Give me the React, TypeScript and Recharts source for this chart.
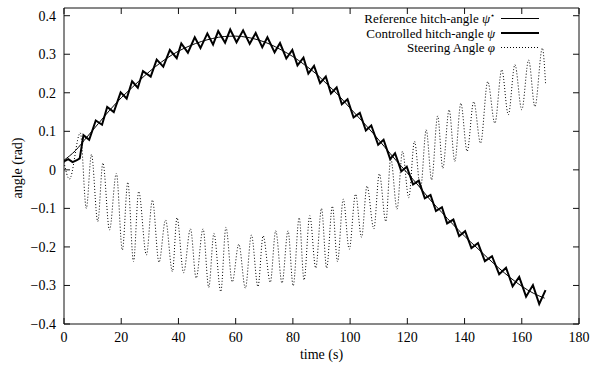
import React from "react";
import { LineChart, Line, XAxis, YAxis, ReferenceArea } from "recharts";

// reference hitch-angle, read every 4 s
const refT = [0, 4, 8, 12, 16, 20, 24, 28, 32, 36, 40, 44, 48, 52, 56, 60, 64, 68, 72, 76, 80, 84, 88, 92, 96, 100, 104, 108, 112, 116, 120, 124, 128, 132, 136, 140, 144, 148, 152, 156, 160, 164, 168];
const refV = [0.025, 0.05, 0.085, 0.12, 0.155, 0.187, 0.215, 0.243, 0.268, 0.29, 0.308, 0.322, 0.333, 0.341, 0.346, 0.347, 0.344, 0.337, 0.326, 0.311, 0.294, 0.273, 0.25, 0.222, 0.193, 0.16, 0.128, 0.095, 0.06, 0.025, -0.008, -0.042, -0.078, -0.11, -0.142, -0.172, -0.2, -0.228, -0.255, -0.28, -0.302, -0.32, -0.333];

// controlled hitch-angle, peaks and dips of the zigzag
const ctrlT = [0, 1.5, 3, 4.5, 5.5, 6.8, 8.8, 11.1, 13.3, 15.1, 17.4, 19.8, 21.9, 23.8, 25.8, 27.6, 30.3, 32.4, 34.7, 37, 39.4, 41, 43.3, 45.7, 47.7, 50.1, 52.1, 53.9, 56.3, 58.1, 60.3, 62.6, 64.9, 67, 69.3, 71.1, 73.6, 75.5, 77.7, 79.8, 81.6, 83.7, 85.4, 87.4, 89.5, 91.5, 93.3, 95.3, 97.1, 99.1, 101.2, 103.4, 105.5, 107.4, 109.8, 111.7, 114, 115.7, 117.9, 119.8, 122, 124, 126.1, 128.1, 130, 132.1, 133.9, 136.1, 138.1, 140.2, 142.4, 144.7, 147.1, 149.6, 152.1, 154.5, 156.8, 159.1, 161.5, 163.9, 166.1, 168.3];
const ctrlV = [0.022, 0.028, 0.02, 0.025, 0.03, 0.09, 0.078, 0.128, 0.117, 0.163, 0.15, 0.201, 0.185, 0.23, 0.213, 0.256, 0.242, 0.286, 0.268, 0.311, 0.29, 0.328, 0.304, 0.344, 0.316, 0.354, 0.325, 0.36, 0.33, 0.364, 0.331, 0.362, 0.327, 0.355, 0.318, 0.344, 0.305, 0.329, 0.289, 0.311, 0.271, 0.291, 0.25, 0.27, 0.225, 0.242, 0.198, 0.214, 0.17, 0.183, 0.136, 0.148, 0.102, 0.115, 0.065, 0.078, 0.028, 0.043, -0.004, 0.008, -0.038, -0.028, -0.074, -0.065, -0.107, -0.097, -0.139, -0.129, -0.172, -0.159, -0.203, -0.19, -0.237, -0.224, -0.271, -0.254, -0.302, -0.278, -0.329, -0.299, -0.348, -0.312];

// steering angle, tops and bottoms of each swing
const steerT = [0, 1.9, 5.7, 7.8, 9.6, 11.8, 13.6, 15.9, 18.3, 20.4, 22.3, 24.3, 26.1, 28.8, 30.9, 33.2, 35.5, 37.9, 39.5, 41.8, 44.2, 46.2, 48.6, 50.6, 52.4, 54.8, 56.6, 58.8, 61.1, 63.4, 65.5, 67.8, 69.6, 72.1, 74, 76.2, 78.3, 80.1, 82.2, 83.9, 85.9, 88, 90, 91.8, 93.8, 95.6, 97.6, 99.7, 101.9, 104, 105.9, 108.3, 110.2, 112.5, 114.2, 116.4, 118.3, 120.5, 122.5, 124.6, 126.6, 128.5, 130.6, 132.4, 134.6, 136.6, 138.7, 140.9, 143.2, 145.6, 148.1, 150.6, 153, 155.3, 157.6, 160, 162.4, 164.6, 167.2, 168.3];
const steerV = [0.02, -0.024, 0.096, -0.1, 0.04, -0.134, 0.018, -0.156, -0.009, -0.208, -0.032, -0.238, -0.056, -0.221, -0.078, -0.24, -0.13, -0.264, -0.124, -0.267, -0.153, -0.281, -0.153, -0.305, -0.165, -0.316, -0.149, -0.291, -0.193, -0.307, -0.169, -0.303, -0.171, -0.292, -0.158, -0.294, -0.158, -0.301, -0.124, -0.286, -0.119, -0.255, -0.1, -0.255, -0.094, -0.238, -0.076, -0.206, -0.063, -0.175, -0.042, -0.153, -0.01, -0.134, 0.03, -0.102, 0.048, -0.072, 0.074, -0.05, 0.104, -0.026, 0.14, 0.004, 0.156, 0.022, 0.173, 0.048, 0.177, 0.069, 0.229, 0.121, 0.26, 0.143, 0.273, 0.156, 0.285, 0.164, 0.316, 0.225];

const xTicks = [0, 20, 40, 60, 80, 100, 120, 140, 160, 180];
const yTicks = [-0.4, -0.3, -0.2, -0.1, 0, 0.1, 0.2, 0.3, 0.4];

const W = 592;
const H = 366;
const M = { top: 8, right: 13, left: 0, bottom: 0 };
const TICK = 6;
const FONT = "'Liberation Serif', 'Times New Roman', serif";
const INK = "#111";

const toRows = (ts: number[], vs: number[]) => ts.map((t, i) => ({ t, v: vs[i] }));
const refData = toRows(refT, refV);
const ctrlData = toRows(ctrlT, ctrlV);
const steerData = toRows(steerT, steerV);

const fmtY = (v: number) => {
  if (v === 0) return "0";
  const s = Math.abs(v).toFixed(1);
  return v < 0 ? `\u2212${s}` : s;
};

function XTick({ x, y, payload }: any) {
  return (
    <g>
      <line x1={x} y1={y} x2={x} y2={y - TICK} stroke={INK} />
      <line x1={x} y1={M.top} x2={x} y2={M.top + TICK} stroke={INK} />
      <text x={x} y={y + 18} textAnchor="middle" fontFamily={FONT} fontSize={14} fill="#000">
        {payload.value}
      </text>
    </g>
  );
}

function YTick({ x, y, payload }: any) {
  const right = W - M.right;
  return (
    <g>
      <line x1={x} y1={y} x2={x + TICK} y2={y} stroke={INK} />
      <line x1={right - TICK} y1={y} x2={right} y2={y} stroke={INK} />
      <text x={x - 8} y={y + 5} textAnchor="end" fontFamily={FONT} fontSize={14} fill="#000">
        {fmtY(payload.value)}
      </text>
    </g>
  );
}

function LegendBox() {
  const tx = 495;
  const x1 = 501;
  const x2 = 539;
  const rows = [18.5, 33, 47.5];
  const txt = { fontFamily: FONT, fontSize: 13, fill: "#000", textAnchor: "end" as const };
  return (
    <svg width={W} height={60} style={{ position: "absolute", left: 0, top: 0, pointerEvents: "none" }}>
      <text x={tx} y={rows[0] + 4.5} {...txt}>
        Reference hitch-angle <tspan fontStyle="italic">ψ</tspan>
        <tspan fontSize={8} dy={-5}>⋆</tspan>
      </text>
      <line x1={x1} y1={rows[0]} x2={x2} y2={rows[0]} stroke="#000" strokeWidth={1} />
      <text x={tx} y={rows[1] + 4.5} {...txt}>
        Controlled hitch-angle <tspan fontStyle="italic">ψ</tspan>
      </text>
      <line x1={x1} y1={rows[1]} x2={x2} y2={rows[1]} stroke="#000" strokeWidth={2} />
      <text x={tx} y={rows[2] + 4.5} {...txt}>
        Steering Angle <tspan fontStyle="italic">φ</tspan>
      </text>
      <line x1={x1} y1={rows[2]} x2={x2} y2={rows[2]} stroke="#000" strokeWidth={1} strokeDasharray="1 2" />
    </svg>
  );
}

export default function App() {
  return (
    <div style={{ position: "absolute", left: 0, top: 0, width: W, height: H, background: "#fff" }}>
      <LineChart width={W} height={H} margin={M}>
        <XAxis
          dataKey="t"
          type="number"
          domain={[0, 180]}
          ticks={xTicks}
          allowDataOverflow
          axisLine={false}
          tickLine={false}
          tickSize={0}
          tickMargin={0}
          height={42}
          tick={<XTick />}
          label={(p: any) => {
            const vb = p.viewBox;
            return (
              <text x={vb.x + vb.width / 2} y={vb.y + 35} textAnchor="middle" fontFamily={FONT} fontSize={14} fill="#000">
                time (s)
              </text>
            );
          }}
        />
        <YAxis
          type="number"
          domain={[-0.4, 0.42]}
          ticks={yTicks}
          allowDataOverflow
          axisLine={false}
          tickLine={false}
          tickSize={0}
          tickMargin={0}
          width={64}
          tick={<YTick />}
          label={(p: any) => {
            const vb = p.viewBox;
            const cx = 19;
            const cy = vb.y + vb.height / 2 + 2;
            return (
              <text x={cx} y={cy} transform={`rotate(-90 ${cx} ${cy})`} textAnchor="middle" dominantBaseline="middle" fontFamily={FONT} fontSize={14} fill="#000">
                angle (rad)
              </text>
            );
          }}
        />
        <ReferenceArea x1={0} x2={180} y1={-0.4} y2={0.42} fill="none" stroke={INK} strokeWidth={1} />
        <Line data={steerData} dataKey="v" type="monotone" stroke="#000" strokeWidth={1} strokeDasharray="1 2" dot={false} isAnimationActive={false} />
        <Line data={ctrlData} dataKey="v" type="linear" stroke="#000" strokeWidth={2} dot={false} isAnimationActive={false} />
        <Line data={refData} dataKey="v" type="monotone" stroke="#000" strokeWidth={1} dot={false} isAnimationActive={false} />
      </LineChart>
      <LegendBox />
    </div>
  );
}
